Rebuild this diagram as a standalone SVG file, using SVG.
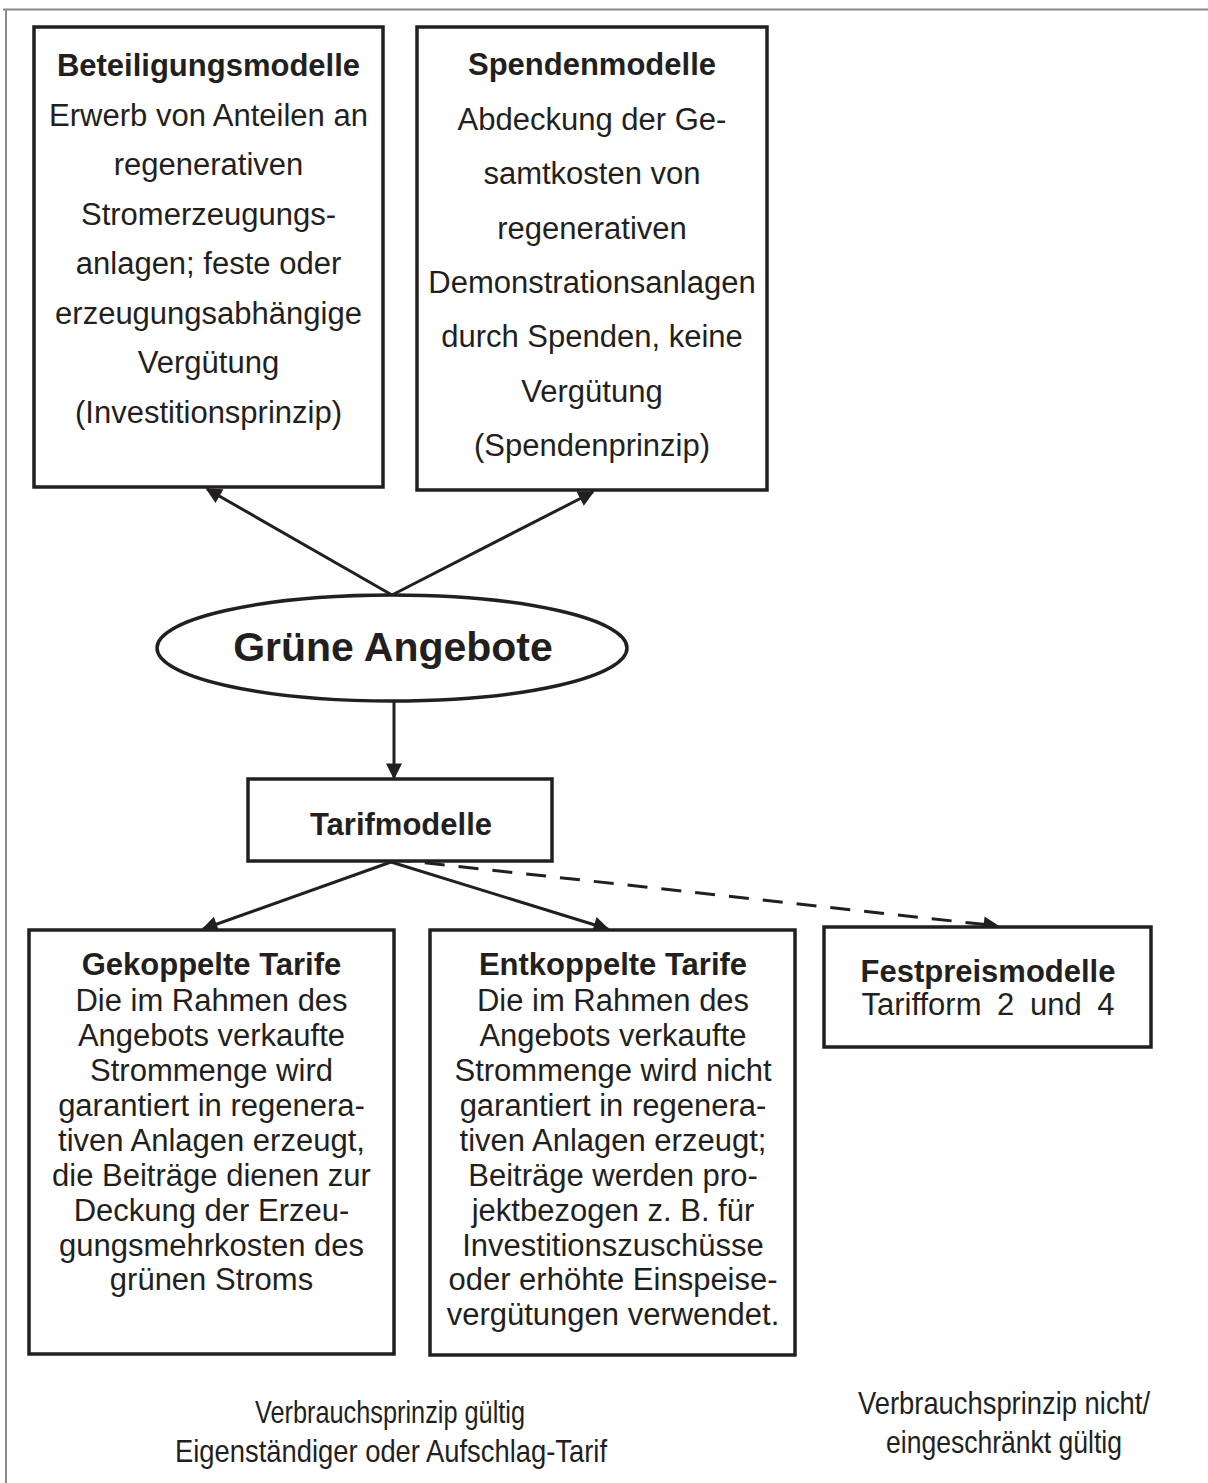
<svg xmlns="http://www.w3.org/2000/svg" width="1208" height="1483" viewBox="0 0 1208 1483">
<style>
.frame{fill:none;stroke:#8a8a8a;stroke-width:2}
.box{fill:#fff;stroke:#231f20;stroke-width:3.5}
.t{font-family:"Liberation Sans",Arial,sans-serif;font-size:31px;fill:#231f20;text-anchor:middle}
.b{font-weight:bold}
.big{font-family:"Liberation Sans",Arial,sans-serif;font-size:41px;font-weight:bold;fill:#231f20;text-anchor:middle}
.n{font-family:"Liberation Sans",Arial,sans-serif;font-size:32px;fill:#231f20;text-anchor:middle}
.c{fill:none;stroke:#231f20;stroke-width:3}
.d{stroke-dasharray:20 14}
</style>
<defs>
<marker id="ah" viewBox="0 0 10 10" refX="9" refY="5" markerWidth="20" markerHeight="16" markerUnits="userSpaceOnUse" orient="auto">
<path d="M0,0 L10,5 L0,10 z" fill="#231f20"/>
</marker>
</defs>
<rect width="1208" height="1483" fill="#fff"/>
<path class="frame" d="M3,9.5 H1208 M6,9.5 V1483"/>

<g id="connectors">
<line class="c" x1="392" y1="595" x2="207" y2="489" marker-end="url(#ah)"/>
<line class="c" x1="392" y1="595" x2="593" y2="492" marker-end="url(#ah)"/>
<line class="c" x1="394" y1="702" x2="394" y2="778" marker-end="url(#ah)"/>
<line class="c" x1="391" y1="862" x2="203" y2="929" marker-end="url(#ah)"/>
<line class="c" x1="391" y1="862" x2="608" y2="929" marker-end="url(#ah)"/>
<line class="c d" x1="391" y1="859" x2="998" y2="926" marker-end="url(#ah)"/>
</g>

<g id="beteiligungsmodelle">
<rect class="box" x="34" y="27" width="349" height="460"/>
<text class="t b" x="208.5" y="76">Beteiligungsmodelle</text>
<text class="t" x="208.5" y="126">Erwerb von Anteilen an</text>
<text class="t" x="208.5" y="175">regenerativen</text>
<text class="t" x="208.5" y="225">Stromerzeugungs-</text>
<text class="t" x="208.5" y="274">anlagen; feste oder</text>
<text class="t" x="208.5" y="324">erzeugungsabhängige</text>
<text class="t" x="208.5" y="373">Vergütung</text>
<text class="t" x="208.5" y="423">(Investitionsprinzip)</text>
</g>

<g id="spendenmodelle">
<rect class="box" x="417" y="27" width="350" height="463"/>
<text class="t b" x="592" y="75">Spendenmodelle</text>
<text class="t" x="592" y="130">Abdeckung der Ge-</text>
<text class="t" x="592" y="184">samtkosten von</text>
<text class="t" x="592" y="239">regenerativen</text>
<text class="t" x="592" y="293">Demonstrationsanlagen</text>
<text class="t" x="592" y="347">durch Spenden, keine</text>
<text class="t" x="592" y="402">Vergütung</text>
<text class="t" x="592" y="456">(Spendenprinzip)</text>
</g>

<g id="gruene-angebote">
<ellipse cx="392" cy="648" rx="235" ry="53" fill="#fff" stroke="#231f20" stroke-width="3.5"/>
<text class="big" x="393" y="661">Grüne Angebote</text>
</g>

<g id="tarifmodelle">
<rect class="box" x="248" y="779" width="304" height="82"/>
<text class="t b" x="401" y="835">Tarifmodelle</text>
</g>

<g id="gekoppelte-tarife">
<rect class="box" x="29" y="930" width="365" height="424"/>
<text class="t b" x="211.5" y="975">Gekoppelte Tarife</text>
<text class="t" x="211.5" y="1011">Die im Rahmen des</text>
<text class="t" x="211.5" y="1046">Angebots verkaufte</text>
<text class="t" x="211.5" y="1081">Strommenge wird</text>
<text class="t" x="211.5" y="1116">garantiert in regenera-</text>
<text class="t" x="211.5" y="1151">tiven Anlagen erzeugt,</text>
<text class="t" x="211.5" y="1186">die Beiträge dienen zur</text>
<text class="t" x="211.5" y="1221">Deckung der Erzeu-</text>
<text class="t" x="211.5" y="1256">gungsmehrkosten des</text>
<text class="t" x="211.5" y="1290">grünen Stroms</text>
</g>

<g id="entkoppelte-tarife">
<rect class="box" x="430" y="930" width="365" height="425"/>
<text class="t b" x="613" y="975">Entkoppelte Tarife</text>
<text class="t" x="613" y="1011">Die im Rahmen des</text>
<text class="t" x="613" y="1046">Angebots verkaufte</text>
<text class="t" x="613" y="1081">Strommenge wird nicht</text>
<text class="t" x="613" y="1116">garantiert in regenera-</text>
<text class="t" x="613" y="1151">tiven Anlagen erzeugt;</text>
<text class="t" x="613" y="1186">Beiträge werden pro-</text>
<text class="t" x="613" y="1221">jektbezogen z. B. für</text>
<text class="t" x="613" y="1256">Investitionszuschüsse</text>
<text class="t" x="613" y="1290">oder erhöhte Einspeise-</text>
<text class="t" x="613" y="1325">vergütungen verwendet.</text>
</g>

<g id="festpreismodelle">
<rect class="box" x="824" y="927" width="327" height="120"/>
<text class="t b" x="988" y="982">Festpreismodelle</text>
<text class="t" x="988" y="1015" word-spacing="7">Tarifform 2 und 4</text>
</g>

<g id="labels">
<text class="n" x="390" y="1423" textLength="270" lengthAdjust="spacingAndGlyphs">Verbrauchsprinzip gültig</text>
<text class="n" x="391" y="1462" textLength="432" lengthAdjust="spacingAndGlyphs">Eigenständiger oder Aufschlag-Tarif</text>
<text class="n" x="1004" y="1414" textLength="292" lengthAdjust="spacingAndGlyphs">Verbrauchsprinzip nicht/</text>
<text class="n" x="1004" y="1453" textLength="236" lengthAdjust="spacingAndGlyphs">eingeschränkt gültig</text>
</g>
</svg>
